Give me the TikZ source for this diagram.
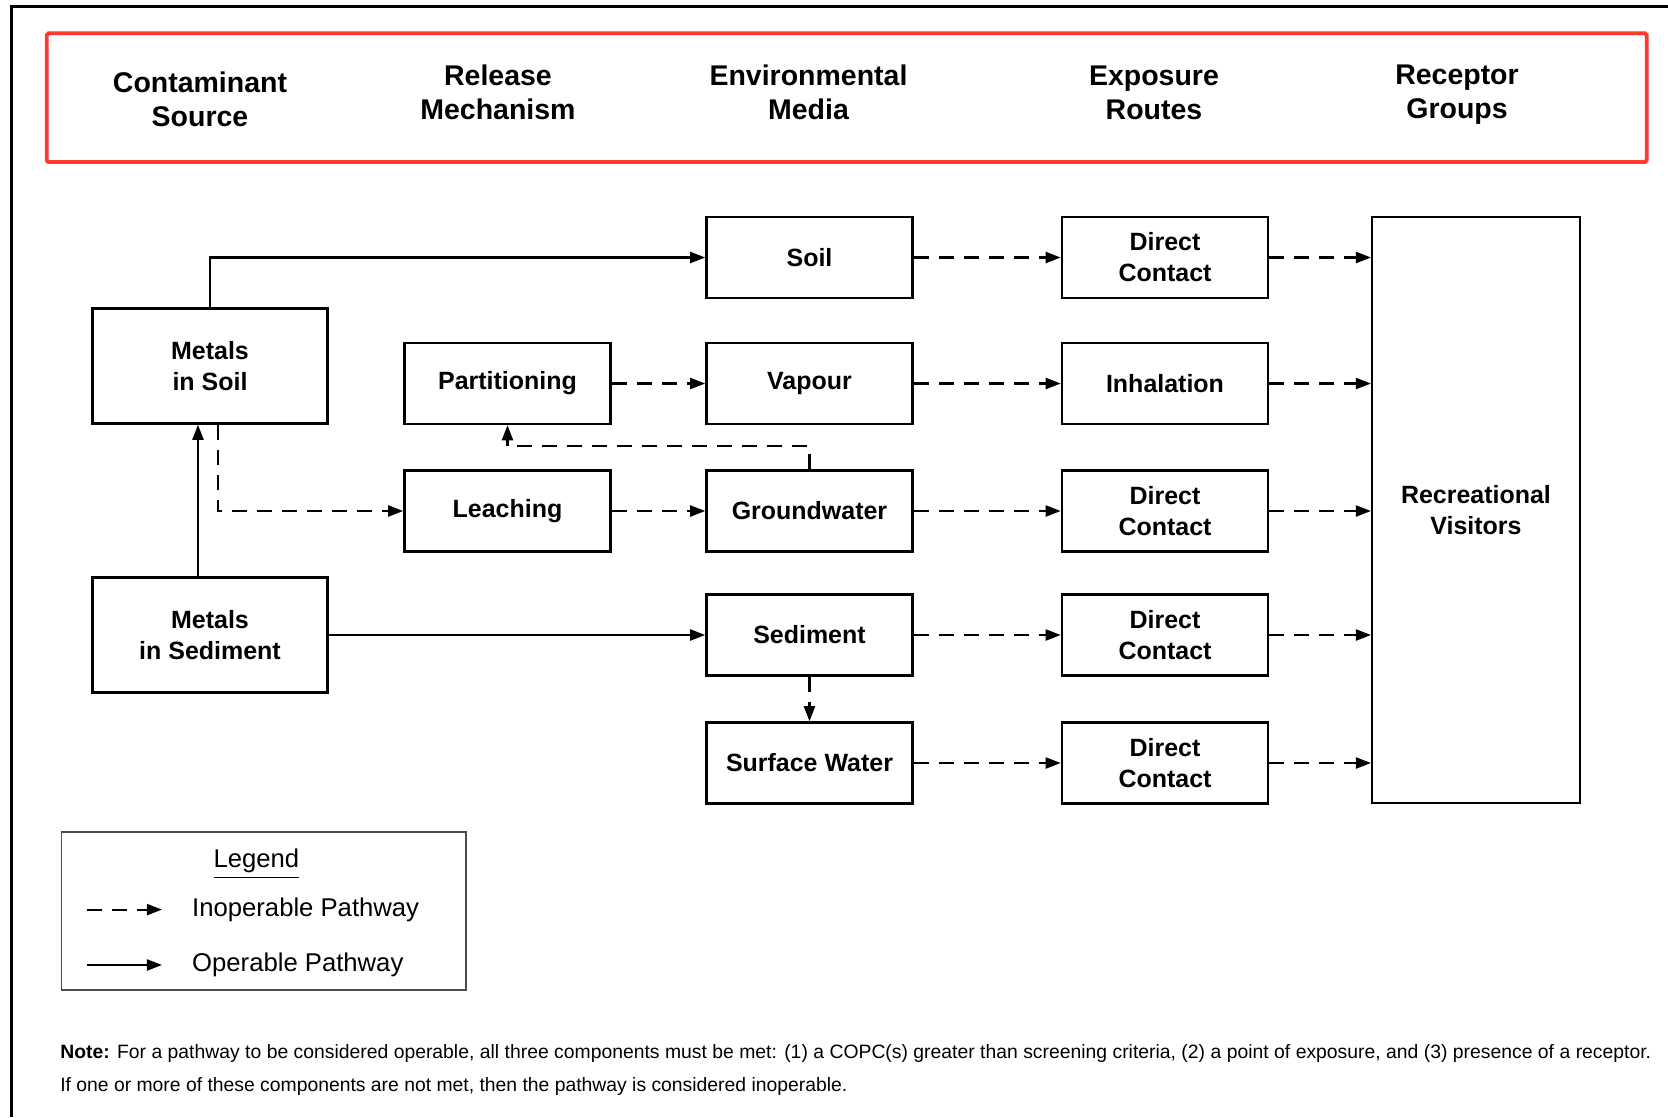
\documentclass[tikz,border=0pt]{standalone}
\usepackage{fontspec}
\setmainfont{Liberation Sans}
\usetikzlibrary{arrows.meta}

\definecolor{hdrred}{RGB}{255,59,48}

\begin{document}
\begin{tikzpicture}[x=0.01cm, y=-0.01cm,
  box/.style={rectangle, draw, line width=0.7pt, align=center, font=\fontsize{7.1}{8.8}\selectfont\bfseries, minimum width=2.06cm, minimum height=0.81cm},
  srcbox/.style={box, minimum width=2.35cm, minimum height=1.15cm},
  head/.style={align=center, font=\fontsize{8.1}{9.7}\selectfont\bfseries},
  legtext/.style={anchor=west, inner sep=0, font=\fontsize{7.3}{8.8}\selectfont},
  oper/.style={line width=0.6pt, -{Triangle[length=1.5mm,width=1.1mm]}},
  inop/.style={oper, dash pattern=on 1.5mm off 1mm}]
  \useasboundingbox (0,0) rectangle (1668,1117);
  % Frame
  \draw[line width=1pt] (11.5,1117) -- (11.5,6.5) -- (1668,6.5);
  \draw[hdrred, line width=1.1pt, rounded corners=0.5pt] (46.7,33.3) rectangle (1646.7,162);
  % Headers
  \node (h-1) [head] at (200, 99) {Contaminant\\Source};
  \node (h-2) [head] at (498, 92.5) {Release\\Mechanism};
  \node (h-3) [head] at (808.5, 92.5) {Environmental\\Media};
  \node (h-4) [head] at (1154, 92.5) {Exposure\\Routes};
  \node (h-5) [head] at (1457, 95) {Receptor\\Groups};
  % Nodes
  \node (soil-src) [srcbox] at (210, 366) {Metals\\in Soil};
  \node (sed-src) [srcbox] at (210, 635) {Metals\\in Sediment};
  \node (part) [box] at (507.5, 383.5) {Partitioning};
  \node (leach) [box] at (507.5, 511) {Leaching};
  \node (soil) [box] at (809.5, 257.5) {Soil};
  \node (vapour) [box] at (809.5, 383.5) {Vapour};
  \node (gw) [box] at (809.5, 511) {Groundwater};
  \node (sed) [box] at (809.5, 635) {Sediment};
  \node (sw) [box] at (809.5, 763) {Surface Water};
  \node (dc-1) [box] at (1165, 257.5) {Direct\\Contact};
  \node (inh) [box] at (1165, 383.5) {Inhalation};
  \node (dc-2) [box] at (1165, 511) {Direct\\Contact};
  \node (dc-3) [box] at (1165, 635) {Direct\\Contact};
  \node (dc-4) [box] at (1165, 763) {Direct\\Contact};
  \node (rec) [box, minimum width=2.075cm, minimum height=5.86cm] at (1476, 510) {Recreational\\Visitors};
  % Arrows
  \draw[oper] (soil-src.north) |- (soil.west);
  \draw[oper] ([xshift=-0.12cm]sed-src.north) -- ([xshift=-0.12cm]soil-src.south);
  \draw[inop] ([xshift=0.08cm]soil-src.south) |- (leach.west);
  \draw[oper] (sed-src.east) -- (sed.west);
  \draw[inop] (part) -- (vapour);
  \draw[inop] (leach) -- (gw);
  \draw[inop] (gw.north) -- ++(0,-23) -| (part.south);
  \draw[inop] (sed) -- (sw);
  \draw[inop] (soil) -- (dc-1);
  \draw[inop] (vapour) -- (inh);
  \draw[inop] (gw) -- (dc-2);
  \draw[inop] (sed) -- (dc-3);
  \draw[inop] (sw) -- (dc-4);
  \draw[inop] (dc-1.east) -- (dc-1.east -| rec.west);
  \draw[inop] (inh.east) -- (inh.east -| rec.west);
  \draw[inop] (dc-2.east) -- (dc-2.east -| rec.west);
  \draw[inop] (dc-3.east) -- (dc-3.east -| rec.west);
  \draw[inop] (dc-4.east) -- (dc-4.east -| rec.west);
  % Legend
  \node (legend) [rectangle, draw=black!70, line width=0.4pt, minimum width=4.04cm, minimum height=1.58cm] at (263.8, 911) {};
  \node (leg-title) [font=\fontsize{7.3}{8.8}\selectfont] at (256.4, 864) {\underline{Legend}};
  \coordinate (ld-a) at (87, 909.6);
  \coordinate (ld-b) at (162, 909.6);
  \coordinate (lo-a) at (87, 965);
  \coordinate (lo-b) at (162, 965);
  \draw[inop] (ld-a) -- (ld-b);
  \draw[oper] (lo-a) -- (lo-b);
  \node (leg-inop) [legtext] at (191.5, 909.6) {Inoperable Pathway};
  \node (leg-oper) [legtext] at (191.5, 965) {Operable Pathway};
  % Note
  \node (note-1) [anchor=west, inner sep=0, font=\fontsize{5.5}{6.6}\selectfont] at (59.6, 1053) {\makebox[15.9cm][s]{\textbf{Note:} For a pathway to be considered operable, all three components must be met: (1) a COPC(s) greater than screening criteria, (2) a point of exposure, and (3) presence of a receptor.}};
  \node (note-2) [anchor=west, inner sep=0, font=\fontsize{5.5}{6.6}\selectfont] at (59.6, 1086) {If one or more of these components are not met, then the pathway is considered inoperable.};
\end{tikzpicture}
\end{document}
